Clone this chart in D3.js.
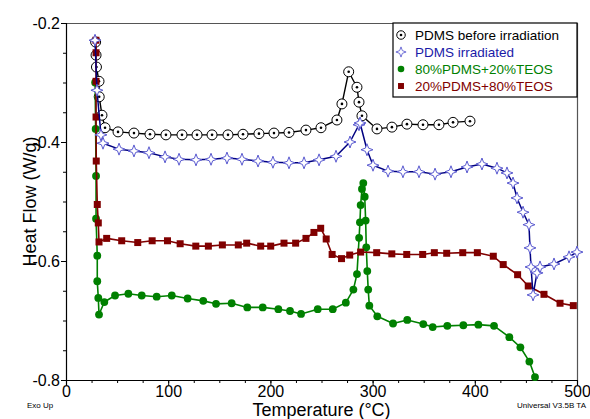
<!DOCTYPE html>
<html>
<head>
<meta charset="utf-8">
<script src="https://cdn.jsdelivr.net/npm/d3@7/dist/d3.min.js"></script>
<style>
  html, body { margin: 0; padding: 0; background: #fff; }
  svg { display: block; font-family: "Liberation Sans", Arial, sans-serif; }
</style>
</head>
<body>
<svg id="chart" width="590" height="419"></svg>
<script>
// DSC heat-flow traces, temperature (°C) vs heat flow (W/g)
const pdmsBeforeT = [29.0, 29.4, 29.8, 32.3, 32.5, 35.2, 38.2, 50.9, 66.5, 82.2, 97.8, 113.5, 128.2, 142.9, 158.5, 173.2, 188.8, 203.5, 218.2, 234.8, 249.5, 265.1, 270.0, 276.6, 284.7, 286.7, 289.6, 304.3, 318.9, 333.6, 349.3, 364.9, 378.7, 395.3];
const pdmsBeforeHF = [-0.232, -0.254, -0.274, -0.298, -0.324, -0.355, -0.376, -0.383, -0.385, -0.387, -0.388, -0.388, -0.388, -0.388, -0.388, -0.387, -0.386, -0.385, -0.384, -0.380, -0.376, -0.363, -0.336, -0.282, -0.308, -0.333, -0.356, -0.378, -0.375, -0.370, -0.371, -0.371, -0.367, -0.365];

const pdmsIrrT = [28.4, 30.3, 34.2, 36.2, 51.9, 66.5, 81.2, 96.9, 110.6, 127.2, 141.9, 157.5, 172.2, 187.9, 202.5, 218.2, 232.9, 247.6, 264.2, 277.9, 286.7, 287.7, 294.5, 300.4, 315.1, 329.7, 345.4, 361.1, 376.7, 392.4, 407.0, 421.7, 431.5, 437.4, 441.3, 447.2, 453.0, 454.0, 455.0, 457.0, 460.9, 463.8, 477.5, 492.2, 500.0];
const pdmsIrrHF = [-0.229, -0.313, -0.388, -0.402, -0.412, -0.415, -0.418, -0.425, -0.429, -0.430, -0.429, -0.427, -0.429, -0.432, -0.434, -0.435, -0.435, -0.430, -0.424, -0.400, -0.371, -0.368, -0.413, -0.439, -0.449, -0.450, -0.450, -0.454, -0.450, -0.442, -0.437, -0.444, -0.452, -0.469, -0.494, -0.518, -0.539, -0.578, -0.610, -0.657, -0.620, -0.610, -0.605, -0.593, -0.585];

const teos20T = [28.5, 29.0, 29.4, 29.4, 30.6, 30.6, 31.6, 32.3, 37.5, 48.0, 61.0, 74.1, 88.7, 103.5, 119.0, 134.3, 146.8, 162.1, 177.4, 192.5, 207.8, 219.2, 230.0, 246.3, 261.0, 273.8, 281.2, 284.7, 286.8, 287.6, 288.3, 289.6, 290.9, 292.3, 293.2, 293.8, 294.8, 295.7, 296.8, 304.6, 320.0, 333.9, 349.6, 358.8, 373.1, 388.8, 403.5, 418.8, 433.8, 444.6, 453.4, 458.9];
const teos20HF = [-0.300, -0.378, -0.457, -0.529, -0.591, -0.634, -0.662, -0.690, -0.669, -0.658, -0.655, -0.658, -0.660, -0.658, -0.663, -0.667, -0.672, -0.671, -0.678, -0.678, -0.681, -0.684, -0.689, -0.681, -0.681, -0.670, -0.648, -0.622, -0.561, -0.535, -0.506, -0.479, -0.469, -0.492, -0.532, -0.577, -0.617, -0.648, -0.675, -0.693, -0.705, -0.699, -0.706, -0.711, -0.709, -0.708, -0.707, -0.709, -0.728, -0.745, -0.769, -0.795];

const teos80T = [29.3, 29.4, 29.4, 29.4, 29.6, 30.6, 31.6, 32.3, 39.8, 54.5, 70.2, 84.3, 99.3, 111.7, 127.0, 139.3, 153.0, 168.6, 176.8, 190.5, 200.3, 213.3, 224.7, 234.8, 242.6, 249.2, 254.6, 260.4, 269.6, 277.6, 288.3, 304.0, 318.8, 333.4, 349.0, 360.4, 372.5, 388.2, 402.5, 418.1, 427.8, 441.9, 452.3, 467.7, 483.4, 496.4];
const teos80HF = [-0.229, -0.250, -0.298, -0.358, -0.432, -0.505, -0.536, -0.568, -0.562, -0.566, -0.569, -0.566, -0.566, -0.571, -0.575, -0.575, -0.573, -0.573, -0.570, -0.575, -0.575, -0.570, -0.570, -0.562, -0.552, -0.545, -0.563, -0.589, -0.596, -0.590, -0.585, -0.586, -0.588, -0.589, -0.589, -0.586, -0.587, -0.586, -0.586, -0.592, -0.606, -0.623, -0.642, -0.656, -0.671, -0.675];

const xTicks = [0, 100, 200, 300, 400, 500];
const yTicks = [-0.2, -0.4, -0.6, -0.8];
const seriesNames = ["PDMS before irradiation", "PDMS irradiated", "80%PDMS+20%TEOS", "20%PDMS+80%TEOS"];

const svg = d3.select("#chart");
const margin = { left: 66, right: 13, top: 23, bottom: 39 };
const W = 590, H = 419;

const x = d3.scaleLinear().domain([0, 500]).range([margin.left, W - margin.right]);
const y = d3.scaleLinear().domain([-0.8, -0.2]).range([H - margin.bottom, margin.top]);

// frame (top and right)
svg.append("path")
  .attr("d", `M${x(0)},${y(-0.2) + 0.5}H${x(500) + 0.5}V${y(-0.8)}`)
  .attr("fill", "none").attr("stroke", "#555").attr("stroke-width", 1.2);

// axes with major and minor ticks pointing outward
const xAxisG = svg.append("g").attr("transform", `translate(0,${y(-0.8)})`);
xAxisG.call(d3.axisBottom(x).tickValues(d3.range(0, 501, 25)).tickSize(3).tickFormat(""));
xAxisG.call(g => g.select(".domain").remove());
const xMajor = svg.append("g").attr("transform", `translate(0,${y(-0.8)})`)
  .call(d3.axisBottom(x).tickValues(xTicks).tickSize(5).tickPadding(1).tickFormat(d3.format("d")));
xMajor.selectAll("text").attr("font-size", 16).attr("fill", "#000")
  .attr("font-family", "Liberation Sans, Arial, sans-serif");
xMajor.select(".domain").attr("stroke-width", 1.2);

const yAxisG = svg.append("g").attr("transform", `translate(${x(0)},0)`);
yAxisG.call(d3.axisLeft(y).tickValues(d3.range(-0.8, -0.199, 0.05)).tickSize(3).tickFormat(""));
yAxisG.call(g => g.select(".domain").remove());
const yMajor = svg.append("g").attr("transform", `translate(${x(0)},0)`)
  .call(d3.axisLeft(y).tickValues(yTicks).tickSize(5).tickPadding(1).tickFormat(d3.format(".1f")));
yMajor.selectAll("text").attr("font-size", 16).attr("fill", "#000")
  .attr("font-family", "Liberation Sans, Arial, sans-serif")
  .text(d => d3.format(".1f")(d).replace("−", "-"));
yMajor.select(".domain").attr("stroke-width", 1.2);

// axis titles and annotations
svg.append("text").attr("x", x(250)).attr("y", 416).attr("text-anchor", "middle")
  .attr("font-size", 18).text("Temperature (°C)");
svg.append("text").attr("transform", `translate(36,${(y(-0.2) + y(-0.8)) / 2}) rotate(-90)`)
  .attr("text-anchor", "middle").attr("font-size", 18).text("Heat Flow (W/g)");
svg.append("text").attr("x", 27).attr("y", 408).attr("font-size", 8).text("Exo Up");
svg.append("text").attr("x", 586).attr("y", 408).attr("text-anchor", "end")
  .attr("font-size", 8).text("Universal V3.5B TA");

// marker shapes
const starPath = "M0,-6L1.6,-1.6L6,0L1.6,1.6L0,6L-1.6,1.6L-6,0L-1.6,-1.6Z";
const styles = [
  { line: "#000000", width: 1.4 },
  { line: "#000080", width: 1.5 },
  { line: "#008000", width: 1.6 },
  { line: "#800000", width: 1.6 }
];
function drawMarker(g, kind, cx, cy, small) {
  const k = small ? 0.85 : 1;
  if (kind === 0) {
    g.append("circle").attr("cx", cx).attr("cy", cy).attr("r", 5 * k)
      .attr("fill", "#fff").attr("stroke", "#000").attr("stroke-width", 1);
    g.append("circle").attr("cx", cx).attr("cy", cy).attr("r", 1.3).attr("fill", "#000");
  } else if (kind === 1) {
    g.append("path").attr("d", starPath).attr("transform", `translate(${cx},${cy}) scale(${k})`)
      .attr("fill", "#fff").attr("stroke", "#5a5ad0").attr("stroke-width", 1);
  } else if (kind === 2) {
    g.append("circle").attr("cx", cx).attr("cy", cy).attr("r", 3.9 * k).attr("fill", "#008000");
  } else {
    const s = 7 * k;
    g.append("rect").attr("x", cx - s / 2).attr("y", cy - s / 2).attr("width", s).attr("height", s)
      .attr("fill", "#800000");
  }
}

const series = [
  { kind: 0, T: pdmsBeforeT, V: pdmsBeforeHF },
  { kind: 2, T: teos20T, V: teos20HF },
  { kind: 3, T: teos80T, V: teos80HF },
  { kind: 1, T: pdmsIrrT, V: pdmsIrrHF }
];

const line = d3.line().x(d => x(d[0])).y(d => y(d[1])).curve(d3.curveLinear);
series.forEach(s => {
  const pts = s.T.map((t, i) => [t, s.V[i]]);
  const g = svg.append("g");
  g.append("path").attr("d", line(pts)).attr("fill", "none")
    .attr("stroke", styles[s.kind].line).attr("stroke-width", styles[s.kind].width)
    .attr("stroke-linejoin", "round");
  pts.forEach(p => drawMarker(g, s.kind, x(p[0]), y(p[1]), false));
});

// legend
const lg = svg.append("g");
lg.append("rect").attr("x", 393).attr("y", y(-0.2)).attr("width", x(500) - 393).attr("height", 74)
  .attr("fill", "#fff").attr("stroke", "#000").attr("stroke-width", 1.2);
const legendColors = ["#000000", "#1a1aa8", "#008000", "#800000"];
const legendKinds = [0, 1, 2, 3];
seriesNames.forEach((name, i) => {
  const cy = 35 + i * 17;
  drawMarker(lg, legendKinds[i], 401, cy, true);
  lg.append("text").attr("x", 415).attr("y", cy + 5).attr("font-size", 13.5)
    .attr("fill", legendColors[i]).text(name);
});
</script>
</body>
</html>
